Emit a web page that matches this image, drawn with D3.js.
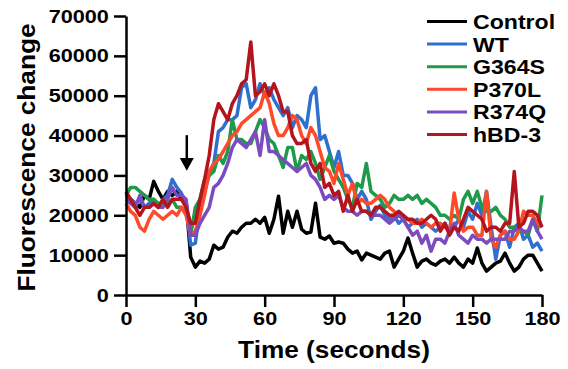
<!DOCTYPE html>
<html>
<head>
<meta charset="utf-8">
<script src="https://cdn.jsdelivr.net/npm/d3@7"></script>
<style>
  html, body { margin: 0; padding: 0; background: #fff; }
  svg { display: block; font-family: "Liberation Sans", Arial, sans-serif; font-weight: bold; }
</style>
</head>
<body>
<div id="chart"></div>
<script>
// time points, one every 2 seconds
const times = d3.range(0, 181, 2);

const seriesNames = ['Control', 'WT', 'G364S', 'P370L', 'R374Q', 'hBD-3'];
const seriesColors = ['#000000', '#2f6fd0', '#1f9a4a', '#ff4a2a', '#7a4cc0', '#b3141d'];

const xTicks = [0, 30, 60, 90, 120, 150, 180];
const yTicks = [0, 10000, 20000, 30000, 40000, 50000, 60000, 70000];

const control = [
  25000, 24000, 23000, 22000, 25000, 24000, 28500, 26000, 24000, 26000,
  25000, 26000, 24000, 23500, 9500, 7000, 8500, 8000, 9000, 12500,
  11500, 12000, 14500, 16000, 15500, 17000, 18000, 18000, 19000, 18000,
  19500, 15500, 19000, 24800, 15500, 21000, 17000, 21000, 16500, 15500,
  15800, 23000, 14500, 14000, 14800, 13000, 13300, 13000, 11500, 10500,
  11000, 8800, 10500, 10000, 9500, 9000, 10500, 11000, 7000, 9000,
  11000, 14300, 10500, 7000, 8500, 9000, 8000, 7500, 8500, 9000,
  8000, 9500, 8000, 7000, 9000, 8000, 11800, 8000, 6000, 7000,
  8000, 8500, 10500, 8000, 6000, 7000, 9000, 10000, 10000, 8000,
  6000
];

const wt = [
  25000, 24000, 23000, 24000, 22000, 23000, 24000, 22000, 24000, 25000,
  29000, 27000, 25500, 23000, 12500, 13000, 22000, 26000, 30000, 33000,
  41000, 42000, 44000, 44000, 45000, 52000, 53000, 47000, 49000, 53000,
  50000, 52000, 49000, 47000, 45000, 47000, 42000, 45000, 44000, 42000,
  50000, 52000, 39000, 40000, 36000, 32000, 36000, 30000, 30000, 28000,
  24000, 26000, 24000, 19000, 21000, 22500, 20000, 19000, 20000, 18000,
  19000, 17000, 18000, 19000, 17000, 18000, 17000, 16000, 17000, 18000,
  16000, 17000, 19000, 17000, 21000, 19000, 23000, 20000, 26000, 17000,
  9000, 15000, 16000, 12000, 17000, 18000, 14000, 15000, 12000, 13000,
  11000
];

const g364s = [
  25000, 27000, 27000, 26000, 25000, 24000, 24000, 23000, 23000, 23000,
  24000, 22000, 22000, 21000, 15000, 22000, 24000, 29000, 30000, 31000,
  35000, 33000, 36000, 44000, 39000, 39000, 38000, 38000, 41000, 44000,
  42000, 39000, 38000, 35000, 32000, 37000, 37000, 31000, 35000, 34000,
  36000, 33000, 29000, 32000, 35000, 31000, 29000, 27000, 24000, 22000,
  28000, 27000, 33000, 26000, 25000, 24000, 22000, 23000, 25000, 24000,
  24000, 25000, 24000, 25000, 23000, 24000, 23000, 22000, 20000, 20000,
  19000, 20000, 19000, 24000, 26000, 23000, 26000, 22000, 21000, 21000,
  22000, 20000, 19000, 17000, 17000, 16000, 16000, 15000, 19000, 16000,
  25000
];

const p370l = [
  23000, 21000, 20000, 17000, 16000, 19000, 21000, 20000, 19000, 20000,
  21000, 20000, 22000, 20000, 15000, 16000, 20000, 25000, 31000, 33000,
  34000, 36000, 38000, 40000, 41000, 43000, 44000, 45000, 46000, 47000,
  51000, 48000, 43000, 40000, 40000, 42000, 45000, 44000, 40000, 38000,
  42000, 40000, 36000, 32000, 31000, 28000, 33000, 29000, 25000, 28000,
  23000, 24000, 23000, 23000, 24000, 25000, 24000, 22000, 21000, 20000,
  19000, 19000, 18000, 18000, 19000, 18000, 17000, 18000, 18000, 17000,
  16000, 25600, 19000, 16000, 17000, 17000, 15000, 15000, 26000, 14000,
  12000, 15000, 16000, 14000, 14000, 16000, 21000, 20000, 20000, 18000,
  17000
];

const r374q = [
  24000, 23000, 22000, 25000, 22000, 22000, 23000, 22000, 22000, 24000,
  27000, 25000, 25000, 24000, 15000, 15000, 18000, 20000, 22000, 27000,
  28000, 30000, 33000, 37000, 39000, 38000, 37000, 39000, 41000, 35000,
  44000, 36000, 36000, 35000, 34000, 33000, 32000, 31000, 32000, 33000,
  30000, 29000, 27000, 24000, 25000, 24000, 25000, 22000, 21000, 21000,
  20000, 21000, 21000, 20000, 20000, 20000, 19000, 18000, 19000, 20000,
  19000, 17000, 15000, 16000, 13000, 15000, 11000, 14000, 14000, 13000,
  16000, 18000, 15000, 14000, 13000, 15000, 14000, 14000, 13000, 14000,
  14000, 14000, 14000, 16000, 16000, 17000, 16000, 16000, 19000, 16000,
  14000
];

const hbd3 = [
  26000, 24000, 22000, 20000, 22000, 22000, 23000, 22000, 24000, 22000,
  24000, 24000, 24000, 22000, 18000, 18000, 24000, 29000, 35000, 44000,
  48000, 46000, 44000, 48000, 50000, 53000, 54000, 63500, 50000, 51000,
  53000, 50000, 53000, 50000, 46000, 46000, 40000, 38000, 38000, 39000,
  33000, 31000, 33000, 27000, 28000, 25000, 26000, 21000, 25000, 21000,
  24000, 21000, 21000, 20000, 22000, 22000, 21000, 20000, 20000, 21000,
  20000, 19000, 19000, 18000, 18000, 19000, 20000, 19000, 16000, 18000,
  15000, 17000, 16000, 19000, 22000, 21000, 20000, 19000, 16000, 17000,
  17000, 16000, 18000, 18000, 31000, 17000, 18000, 21000, 21000, 20000,
  17000
];

const seriesValues = [control, wt, g364s, p370l, r374q, hbd3];

// stimulus arrow: time and y extent
const arrowTime = 26.3;
const arrowTop = 40100;
const arrowHeadBase = 34400;
const arrowTip = 31200;

const width = 568, height = 369;
const svg = d3.select('#chart').append('svg')
  .attr('width', width)
  .attr('height', height);

const x = d3.scaleLinear().domain([0, 180]).range([126, 542]);
const y = d3.scaleLinear().domain([0, 70000]).range([295, 16]);

const textStretch = 'scale(1.14,1)';

// lines
const line = d3.line()
  .x((d, i) => x(times[i]))
  .y(d => y(d));

svg.append('g')
  .selectAll('path')
  .data(seriesValues)
  .join('path')
  .attr('d', d => line(d))
  .attr('fill', 'none')
  .attr('stroke', (d, i) => seriesColors[i])
  .attr('stroke-width', 3.5)
  .attr('stroke-linejoin', 'round');

// axes
const yAxis = svg.append('g')
  .attr('transform', `translate(${x(0)},0)`)
  .call(d3.axisLeft(y).tickValues(yTicks).tickSize(12).tickSizeOuter(0).tickPadding(3).tickFormat(d3.format('d')));

const xAxis = svg.append('g')
  .attr('transform', `translate(0,${y(0)})`)
  .call(d3.axisBottom(x).tickValues(xTicks).tickSize(12).tickSizeOuter(0).tickPadding(5).tickFormat(d3.format('d')));

[xAxis, yAxis].forEach(ax => {
  ax.select('.domain').attr('stroke', '#000').attr('stroke-width', 2.5);
  ax.selectAll('.tick line').attr('stroke', '#000').attr('stroke-width', 2.5);
  ax.selectAll('.tick text')
    .attr('fill', '#000')
    .attr('font-size', '19px')
    .attr('font-weight', 'bold')
    .attr('font-family', '"Liberation Sans", Arial, sans-serif')
    .attr('transform', textStretch);
});

// axis titles
svg.append('text')
  .attr('transform', `translate(${(x(0) + x(180)) / 2},358) ${textStretch}`)
  .attr('text-anchor', 'middle')
  .attr('font-size', '23px')
  .text('Time (seconds)');

svg.append('text')
  .attr('transform', `translate(35,${(y(0) + y(70000)) / 2 + 2}) rotate(-90) ${textStretch}`)
  .attr('text-anchor', 'middle')
  .attr('font-size', '23px')
  .text('Fluorescence change');

// arrow marking the stimulus
const ax0 = x(arrowTime);
svg.append('line')
  .attr('x1', ax0).attr('x2', ax0)
  .attr('y1', y(arrowTop)).attr('y2', y(arrowHeadBase) + 1)
  .attr('stroke', '#000')
  .attr('stroke-width', 2.5);
svg.append('path')
  .attr('d', `M${ax0 - 7},${y(arrowHeadBase)} L${ax0 + 7},${y(arrowHeadBase)} L${ax0},${y(arrowTip)} Z`)
  .attr('fill', '#000');

// legend
const legend = svg.append('g')
  .selectAll('g')
  .data(seriesNames)
  .join('g')
  .attr('transform', (d, i) => `translate(427,${21.5 + i * 22.6})`);

legend.append('line')
  .attr('x1', 0).attr('x2', 40)
  .attr('stroke', (d, i) => seriesColors[i])
  .attr('stroke-width', 3);

legend.append('text')
  .attr('transform', 'translate(46,7.5) scale(1.1,1)')
  .attr('font-size', '21px')
  .text(d => d);
</script>
</body>
</html>
